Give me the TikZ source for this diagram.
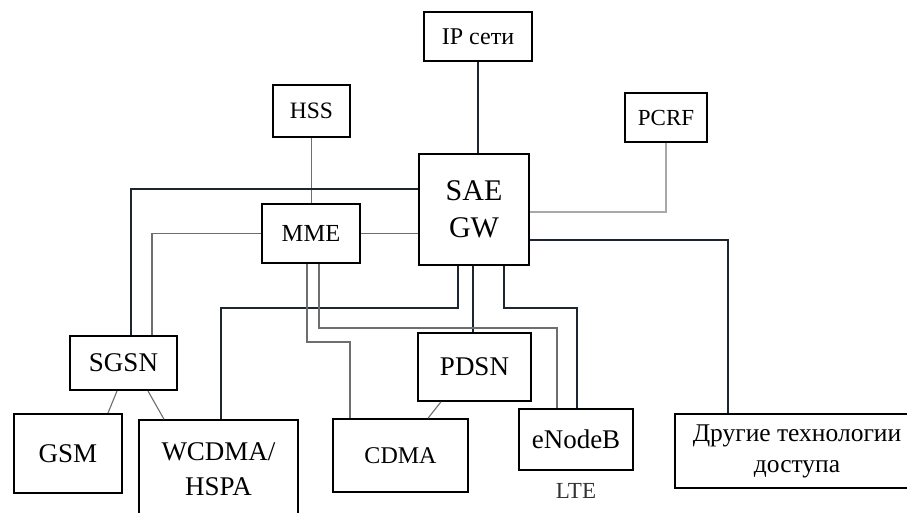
\documentclass[tikz,border=0pt]{standalone}
\usepackage{fontspec}
\setmainfont{Liberation Serif}
\usetikzlibrary{calc}
\definecolor{thkcol}{HTML}{1C2630}
\definecolor{thncol}{HTML}{6E6E6E}
\definecolor{pcrfcol}{HTML}{A8A8A8}
\tikzset{
  box/.style={draw=black, line width=1.5pt, fill=white, inner sep=0pt, align=center},
  thk/.style={draw=thkcol, line width=2.2pt},
  thn/.style={draw=thncol, line width=1.1pt},
  thnl/.style={draw=pcrfcol, line width=1.1pt}
}
\begin{document}
\begin{tikzpicture}[x=1pt,y=-1pt]
\useasboundingbox (0,0) rectangle (907,513);
\clip (0,0) rectangle (907,513);
\fill[white] (0,0) rectangle (907,513);
% nodes
\node[box, line width=2pt, minimum width=108pt, minimum height=49pt, font=\fontsize{24}{28}\selectfont] (ip) at (478,36.5) {IP сети};
\node[box, minimum width=77pt, minimum height=52pt, font=\fontsize{23.5}{27}\selectfont] (hss) at (311.5,111) {HSS};
\node[box, minimum width=82pt, minimum height=49pt, font=\fontsize{23}{27}\selectfont] (pcrf) at (666,117.5) {PCRF};
\node[box, line width=2pt, minimum width=110pt, minimum height=111pt, font=\fontsize{30}{37}\selectfont] (sae) at (474,209.5) {SAE\\GW};
\node[box, minimum width=98pt, minimum height=59pt, font=\fontsize{24.5}{28}\selectfont] (mme) at (311,233.5) {MME};
\node[box, line width=2pt, minimum width=107pt, minimum height=54pt, font=\fontsize{27}{32}\selectfont] (sgsn) at (123.5,363) {SGSN};
\node[box, line width=2pt, minimum width=108pt, minimum height=79pt, font=\fontsize{27}{32}\selectfont] (gsm) at (68,453.5) {GSM};
\node[box, minimum width=159pt, minimum height=98pt, font=\fontsize{27}{35}\selectfont] (wcdma) at (218.5,469) {WCDMA/\\HSPA};
\node[box, minimum width=135pt, minimum height=73pt, font=\fontsize{24}{28}\selectfont] (cdma) at (400.5,455.5) {CDMA};
\node[box, minimum width=113pt, minimum height=68pt, font=\fontsize{27}{32}\selectfont] (pdsn) at (474.5,367) {PDSN};
\node[box, line width=2pt, minimum width=114pt, minimum height=61pt, font=\fontsize{27}{32}\selectfont] (enb) at (576,439.5) {eNodeB};
\node[font=\fontsize{23}{27}\selectfont, text=black!80, inner sep=0pt] (lte) at (576,491) {LTE};
\node[box, line width=2pt, minimum width=244pt, minimum height=74pt, font=\fontsize{25.5}{31}\selectfont] (other) at (797,451) {Другие технологии\\доступа};
% connectors
\draw[thk] (ip.south) -- (ip.south |- sae.north);
\draw[thn] (hss.south) -- (hss.south |- mme.north);
\draw[thk] (sae.west |- 0,189) -- (131,189) -- (131,0 |- sgsn.north);
\draw[thn] (mme.west) -- (mme.west -| 152,0) -- (152,0 |- sgsn.north);
\draw[thn] (mme.east) -- (mme.east -| sae.west);
\draw[thnl] (pcrf.south) -- (pcrf.south |- 0,212) -- (sae.east |- 0,212);
\draw[thk] (sae.east |- 0,240) -- (728,240) -- (728,0 |- other.north);
\draw[thk] (458,0 |- sae.south) -- (458,308) -- (221,308) -- (221,0 |- wcdma.north);
\draw[thk] (473,0 |- sae.south) -- (473,0 |- pdsn.north);
\draw[thk] (504,0 |- sae.south) -- (504,308) -- (577,308) -- (577,0 |- enb.north);
\draw[thn] (319,0 |- mme.south) -- (319,328) -- (557,328) -- (557,0 |- enb.north);
\draw[thn] (307,0 |- mme.south) -- (307,342) -- (350,342) -- (350,0 |- cdma.north);
\draw[thn] (117,0 |- sgsn.south) -- (108,0 |- gsm.north);
\draw[thn] (148,0 |- sgsn.south) -- (164,0 |- wcdma.north);
\draw[thn] (441,0 |- pdsn.south) -- (428,0 |- cdma.north);
\end{tikzpicture}
\end{document}
